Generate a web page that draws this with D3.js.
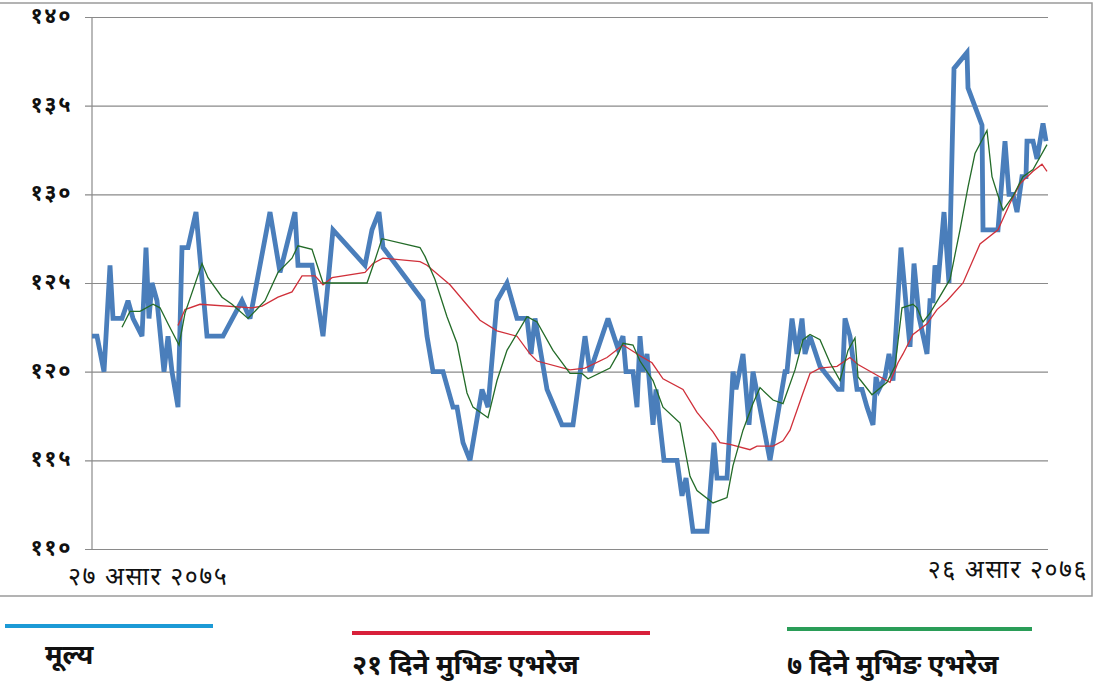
<!DOCTYPE html>
<html>
<head>
<meta charset="utf-8">
<script src="https://cdn.jsdelivr.net/npm/d3@7"></script>
<style>
  body { margin: 0; background: #fff; }
  svg { display: block; }
  text { font-family: "Noto Sans Devanagari", "Lohit Devanagari", "Mangal", "Noto Sans", sans-serif; }
</style>
</head>
<body>
<svg id="chart" width="1100" height="696"></svg>
<script>
// trading-day index (0 = 27 Asar 2075) and price
var priceDays = [0, 1.25, 3, 4.5, 5.25, 7.5, 9, 10.25, 12.5, 13.5, 14.25, 15, 16.25, 18, 19, 20, 21.5, 22.5, 24, 26,
  28.75, 32.75, 37.5, 39.5, 44.5, 47, 50.75, 51.5, 55, 57.75, 60.25, 68.25, 70, 71.75, 72.75, 82.75, 83.75, 85.25,
  87.75, 90.25, 91.25, 92.75, 94.5, 97.5, 99, 101.25, 103.75, 106.25, 108.75, 109.75, 110.75, 113.75, 117.5, 120.25,
  123.25, 124.5, 129, 131.5, 132.75, 133.5, 135.25, 136.25, 137, 137.75, 138.75, 140.25, 141, 143, 146.25, 147.5,
  148.5, 150.25, 153.75, 155.5, 156.25, 158.75, 160.25, 161, 162.75, 164.25, 165.25, 169.5, 173.25, 173.75, 175,
  176.25, 177.5, 178.25, 179.5, 182, 186.5, 187.5, 188.25, 189.5, 191.25, 192.5, 193.75, 195.25, 196, 196.75, 198.25,
  199.25, 200.25, 202.25, 203.75, 204.5, 205.5, 206.75, 208.75, 209.5, 210.25, 210.75, 211.5, 213, 214.25, 215.5,
  218.75, 219, 222.5, 222.75, 226.5, 228.25, 229.25, 230.25, 231.25, 232.5, 233.5, 233.75, 235.25, 236.25, 237.75, 238.5];
var priceValues = [122, 122, 120, 126, 123, 123, 124, 123, 122, 127, 123, 125, 124, 120, 122, 120, 118, 127, 127, 129,
  122, 122, 124, 123, 129, 125.6, 129, 126, 126, 122, 128, 126, 128, 129, 127, 124, 122, 120,
  120, 118, 118, 116, 115, 119, 118, 124, 125, 123, 123, 121, 123, 119, 117, 117,
  122, 120, 123, 121.3, 122, 120, 120, 118, 122, 120, 121, 117, 119, 115, 115, 113,
  114, 111, 111, 116, 114, 114, 120, 119, 121, 117, 120, 115, 120, 120, 123,
  121, 123, 121, 122, 120.3, 119, 119, 123, 122, 119, 119, 118, 117, 119.7, 119, 119.7,
  121, 119.5, 127, 123.2, 121.4, 126.1, 123.1, 121, 124, 124, 126, 125, 129, 125, 137.1,
  138, 136, 133.9, 128, 128, 133, 130, 130, 129, 131, 131, 133, 133, 132, 134, 133];

var ma21Days = [21.5, 23.25, 27, 40, 42.5, 46.5, 50, 52.5, 55.75, 57.75, 60, 68.25, 70.25, 72.75, 82, 83.75, 89.5,
  97, 101.25, 106.25, 109.5, 111.25, 119.5, 123.25, 128.75, 132.75, 137, 140, 142.75, 147.75, 151.25, 155.25, 157,
  159.5, 164.5, 166.25, 170.25, 172.75, 174.5, 177.75, 179.5, 182, 186.25, 189.5, 191.5, 196.25, 199.5, 201.5,
  202.75, 205.25, 208.75, 211.25, 213.75, 217.75, 222, 226.5, 229.5, 232, 235.25, 237.5, 238.75];
var ma21Values = [122.6, 123.5, 123.8, 123.6, 123.7, 124.2, 124.5, 125.4, 125.4, 124.9, 125.3, 125.6, 126.1, 126.4,
  126.2, 126, 124.9, 122.9, 122.3, 122, 121, 120.6, 120.1, 120.2, 120.8, 121.5, 120.9, 120.5, 119.6, 119, 117.7,
  116.6, 116, 115.9, 115.6, 115.8, 115.8, 116.1, 116.7, 118.8, 119.9, 120.2, 120.3, 120.8, 120.4, 119.8, 119.4,
  120.5, 121, 122.1, 122.7, 123.5, 124, 125, 127.2, 128, 129.5, 130.6, 131.3, 131.7, 131.3];

var ma7Days = [7.5, 9.5, 12, 15.25, 17, 19, 21.75, 23.25, 27.5, 29, 32.5, 35, 39, 43.25, 46.5, 50, 51.5, 55, 57.75,
  60, 68.75, 70.75, 72.5, 82, 83.25, 85.75, 88.75, 91.25, 93.75, 95.25, 99, 101.25, 103.75, 108.75, 111.25, 115.25,
  119.5, 122.5, 124, 129.5, 131.5, 132.75, 135.25, 137, 140.25, 142.75, 147, 149.5, 151.25, 155.25, 158.75, 160.25,
  162.75, 165.25, 167, 170.25, 172.75, 175.75, 177.75, 179.5, 182, 184.5, 187, 189, 190.75, 191.5, 195, 198.75,
  200.75, 202.5, 205.25, 206.25, 207.75, 209.5, 214.5, 217, 219, 220.75, 223.75, 225, 226.25, 227.75, 230.25,
  232.75, 235.25, 238.75];
var ma7Values = [122.5, 123.4, 123.4, 123.8, 123.6, 122.7, 121.5, 123.3, 126.1, 125.3, 124.2, 123.8, 123, 124, 125.6,
  126.4, 127.1, 126.9, 125, 125, 125, 126.3, 127.5, 127, 126.5, 125.2, 123.1, 121.6, 118.8, 118, 117.4, 119.5,
  121.2, 123.1, 122.8, 121.2, 119.9, 119.9, 119.6, 120.2, 121, 121.6, 121.5, 120.6, 119.5, 118, 117.1, 114.1,
  113.3, 112.6, 112.9, 114.7, 116.7, 118.2, 119.1, 118.4, 118.2, 120.1, 121.8, 122.1, 121.8, 120.5, 119.5, 121.2,
  121.9, 119.7, 118.7, 119.4, 120.3, 123.6, 123.8, 123.6, 122.8, 123.3, 125.2, 128, 130.4, 132.3, 133.6, 131,
  130.1, 129.1, 129.9, 131, 131.4, 132.8];

var yTicks = [110, 115, 120, 125, 130, 135, 140];
var yTickLabels = ['११०', '११५', '१२०', '१२५', '१३०', '१३५', '१४०'];
var startLabel = '२७ असार २०७५';
var endLabel = '२६ असार २०७६';
var legendNames = ['मूल्य', '२१ दिने मुभिङ एभरेज', '७ दिने मुभिङ एभरेज'];
var legendColors = ['#1c9ad6', '#d8203a', '#2a9d58'];

var svg = d3.select('#chart');
var plotL = 92, plotR = 1048, plotT = 17, plotB = 549;

var x = d3.scaleLinear().domain([0, 239]).range([plotL, plotR]);
var y = d3.scaleLinear().domain([110, 140]).range([plotB, plotT]);

// outer frame
svg.append('rect')
  .attr('x', -1).attr('y', 3)
  .attr('width', 1093).attr('height', 593)
  .attr('fill', 'none').attr('stroke', '#9a9a9a').attr('stroke-width', 1.5);

// gridlines + ticks
var yAxis = d3.axisLeft(y)
  .tickValues(yTicks)
  .tickSize(-(plotR - plotL))
  .tickSizeOuter(0)
  .tickFormat(function (d, i) { return yTickLabels[i]; });

var gy = svg.append('g').attr('transform', 'translate(' + plotL + ',0)').call(yAxis);
gy.select('.domain').remove();
gy.selectAll('.tick line').attr('stroke', '#8a8a8a').attr('stroke-width', 1.2).attr('x1', -7);
gy.selectAll('.tick text')
  .attr('x', -20)
  .attr('dy', '0.25em')
  .attr('fill', '#111')
  .style('font-size', '22px')
  .style('font-weight', 'bold')
  .style('letter-spacing', '1.5px');

// vertical axis line
svg.append('line')
  .attr('x1', plotL).attr('x2', plotL)
  .attr('y1', plotT).attr('y2', plotB)
  .attr('stroke', '#8a8a8a').attr('stroke-width', 1.2);

// date labels
svg.append('text').attr('x', 68).attr('y', 585)
  .style('font-size', '25px').style('letter-spacing', '1.5px')
  .attr('fill', '#111').text(startLabel);
svg.append('text').attr('x', 1088).attr('y', 578).attr('text-anchor', 'end')
  .style('font-size', '25px').style('letter-spacing', '1.5px')
  .attr('fill', '#111').text(endLabel);

var line = d3.line()
  .x(function (d) { return x(d[0]); })
  .y(function (d) { return y(d[1]); });

var price = d3.zip(priceDays, priceValues);
var ma21 = d3.zip(ma21Days, ma21Values);
var ma7 = d3.zip(ma7Days, ma7Values);

svg.append('path').datum(price)
  .attr('d', line)
  .attr('fill', 'none')
  .attr('stroke', '#4a7ebb')
  .attr('stroke-width', 4.8)
  .attr('stroke-linejoin', 'miter')
  .attr('stroke-miterlimit', 3);

svg.append('path').datum(ma21)
  .attr('d', line)
  .attr('fill', 'none')
  .attr('stroke', '#d0303a')
  .attr('stroke-width', 1.3);

svg.append('path').datum(ma7)
  .attr('d', line)
  .attr('fill', 'none')
  .attr('stroke', '#236b28')
  .attr('stroke-width', 1.3);

// legend
var legendPos = [
  { x1: 5, x2: 213, ly: 626, tx: 45, ty: 664 },
  { x1: 352, x2: 650, ly: 633, tx: 352, ty: 674 },
  { x1: 787, x2: 1032, ly: 629, tx: 787, ty: 674 }
];

var lg = svg.selectAll('g.legend').data(legendNames).enter().append('g').attr('class', 'legend');
lg.append('line')
  .attr('x1', function (d, i) { return legendPos[i].x1; })
  .attr('x2', function (d, i) { return legendPos[i].x2; })
  .attr('y1', function (d, i) { return legendPos[i].ly; })
  .attr('y2', function (d, i) { return legendPos[i].ly; })
  .attr('stroke', function (d, i) { return legendColors[i]; })
  .attr('stroke-width', 4);
lg.append('text')
  .attr('x', function (d, i) { return legendPos[i].tx; })
  .attr('y', function (d, i) { return legendPos[i].ty; })
  .attr('fill', '#111')
  .style('font-size', '27px')
  .style('font-weight', 'bold')
  .text(function (d) { return d; });
</script>
</body>
</html>
